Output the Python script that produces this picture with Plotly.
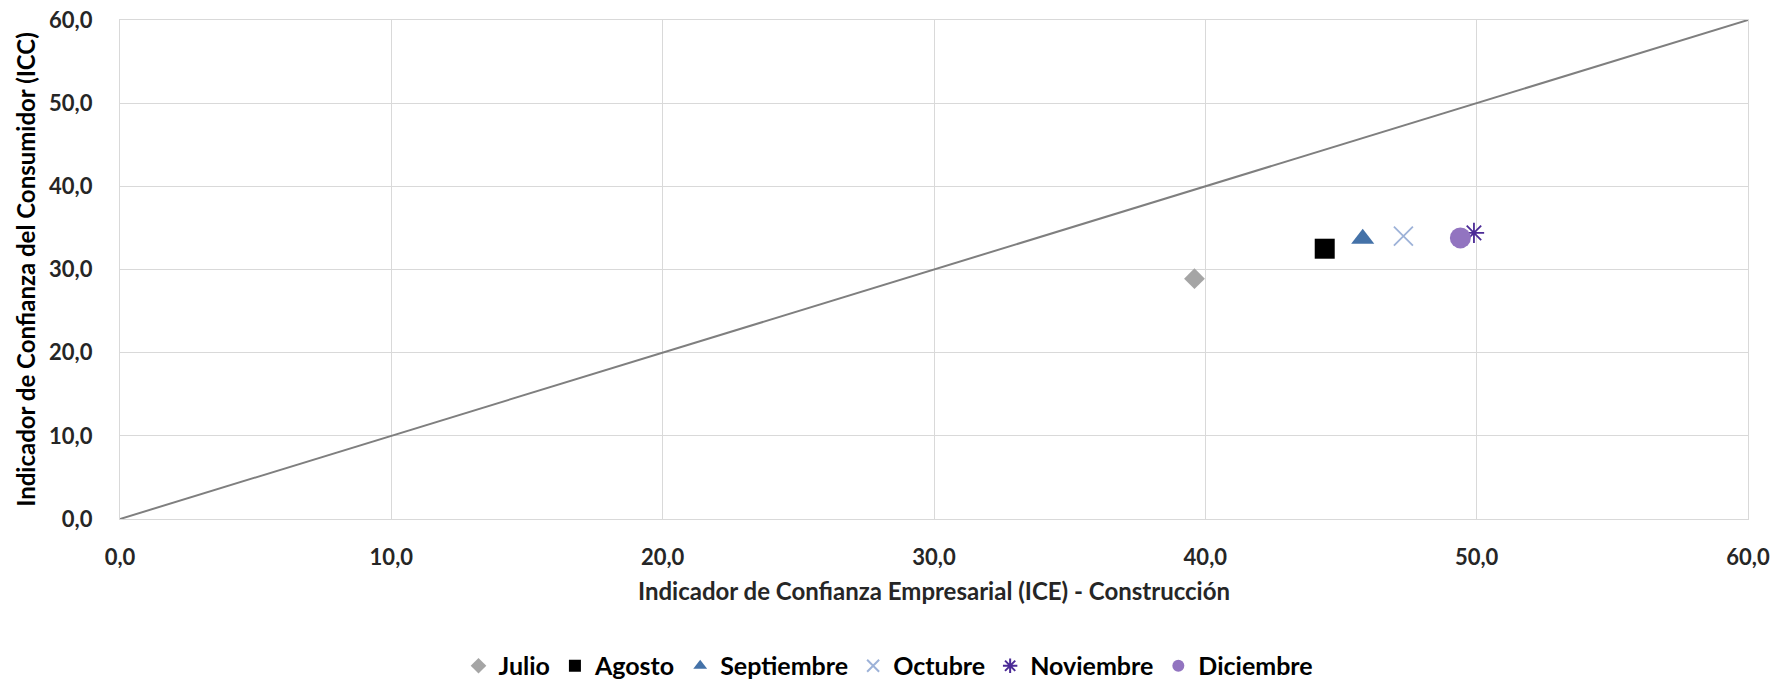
import plotly.graph_objects as go

months = ["Julio", "Agosto", "Septiembre", "Octubre", "Noviembre", "Diciembre"]
ice = [39.6, 44.4, 45.8, 47.3, 49.9, 49.4]
icc = [28.9, 32.5, 33.7, 34.0, 34.4, 33.8]
symbols = ["diamond", "square", "triangle-up", "x-thin-open", "asterisk-open", "circle"]
colors = ["#A5A5A5", "#000000", "#4472A8", "#9DB2D8", "#4B2A96", "#9274C0"]
sizes = [16, 20, 20, 19, 17, 21]
ref_line = [0, 60]
ticks = [0, 10, 20, 30, 40, 50, 60]

FONT = "Lato"

fig = go.Figure()
fig.add_trace(go.Scatter(x=ref_line, y=ref_line, mode="lines",
                         line=dict(color="#7F7F7F", width=2),
                         showlegend=False, hoverinfo="skip", cliponaxis=False))
for m, xv, yv, s, c, sz in zip(months, ice, icc, symbols, colors, sizes):
    lw = 1.8 if "open" in s else 0
    fig.add_trace(go.Scatter(x=[xv], y=[yv], mode="markers", name=m,
                             marker=dict(symbol=s, color=c, size=sz,
                                         line=dict(color=c, width=lw))))

axis_common = dict(range=[0, 60], tickvals=ticks, tickformat=".1f",
                   showgrid=True, gridcolor="#D9D9D9", gridwidth=1.3,
                   zeroline=False, showline=True, linecolor="#D9D9D9",
                   linewidth=1.3, mirror=True, automargin=False,
                   tickfont=dict(family=FONT, size=22, color="#262626", weight="bold"))

fig.update_xaxes(**axis_common, ticklabelstandoff=18,
                 title=dict(text="<b>Indicador de Confianza Empresarial (ICE) - Construcción</b>",
                            font=dict(family=FONT, size=24, color="#262626"), standoff=14))
fig.update_yaxes(**axis_common, ticklabelstandoff=22,
                 title=dict(text="<b>Indicador de Confianza del Consumidor (ICC)</b>",
                            font=dict(family=FONT, size=24, color="#000000"), standoff=6))

fig.update_layout(
    width=1777, height=680,
    margin=dict(l=120, r=29, t=20, b=161, autoexpand=False),
    plot_bgcolor="white", paper_bgcolor="white",
    separators=",.",
    legend=dict(orientation="h", xref="container", yref="container",
                x=0.5, xanchor="center", y=0.0206, yanchor="middle",
                font=dict(family=FONT, size=25, color="#000000", weight="bold"),
                itemwidth=30, itemsizing="constant", tracegroupgap=0),
)

fig.write_html("out.html", config={"displayModeBar": False},
               post_script="document.body.style.margin='0';document.body.style.overflow='hidden';")
